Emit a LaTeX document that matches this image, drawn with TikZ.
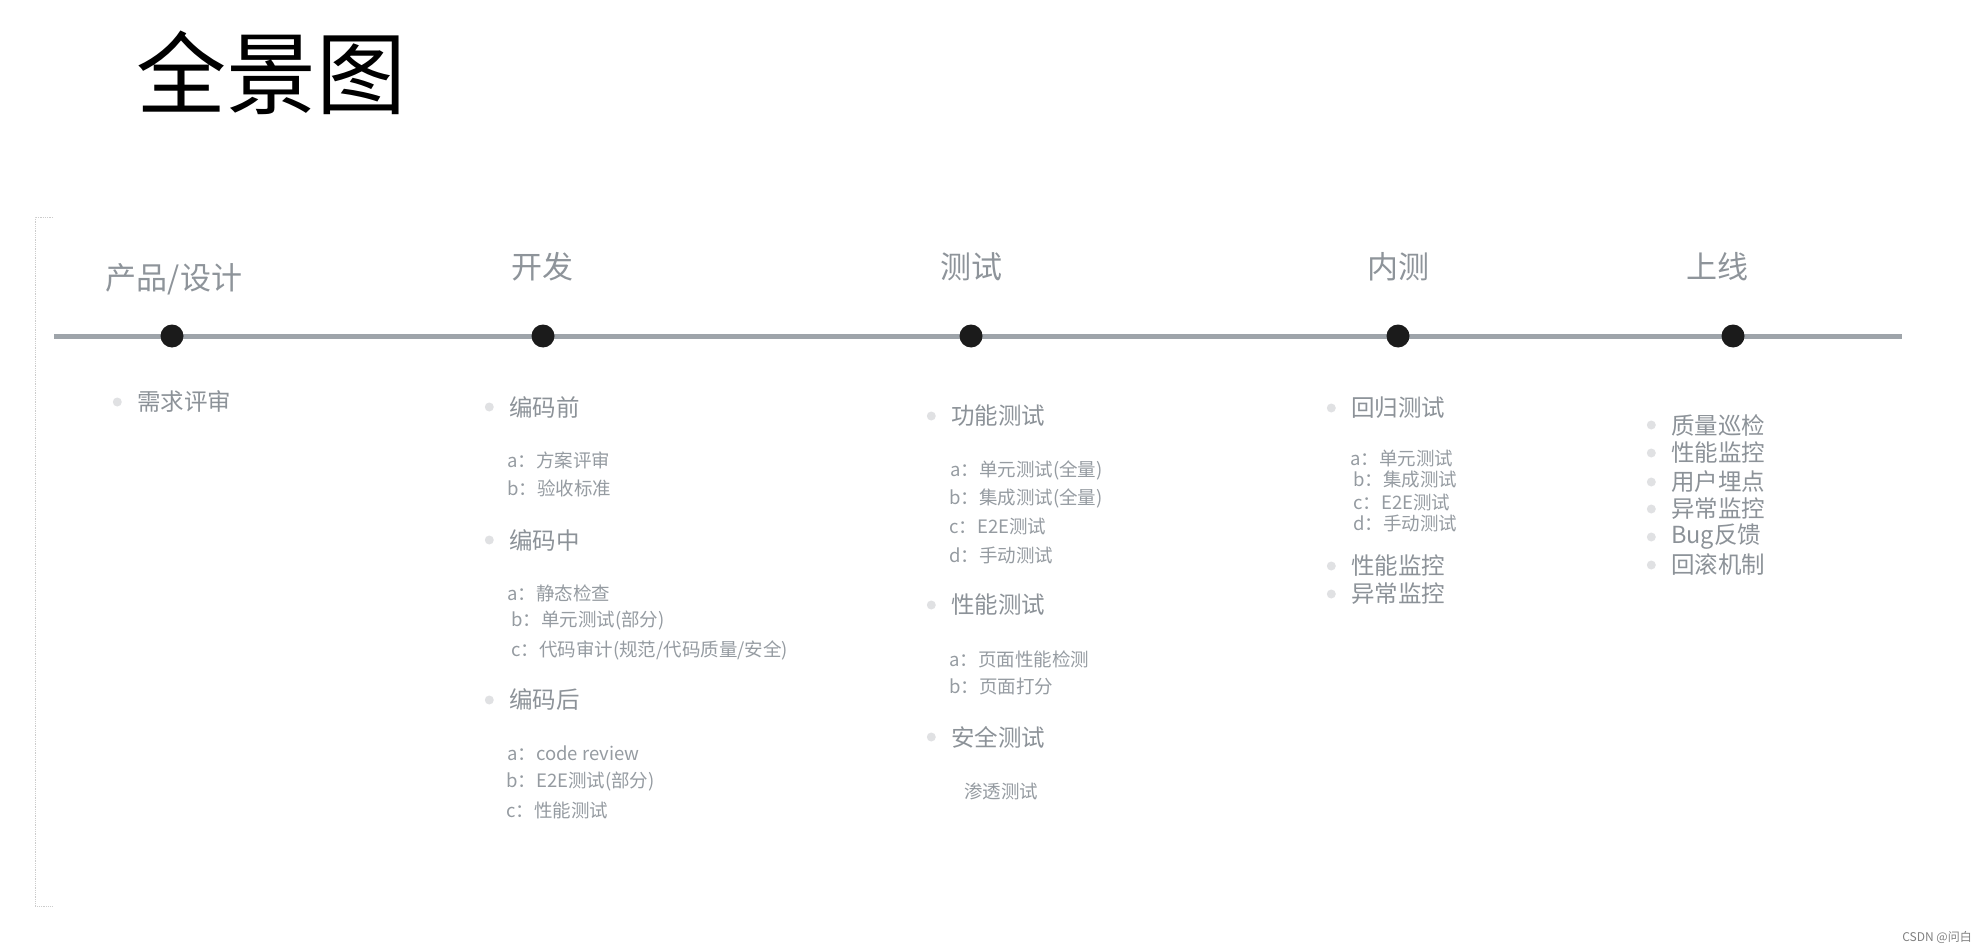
\documentclass[tikz,border=0pt]{standalone}
\usepackage{fontspec}
\newfontfamily\cjk{Noto Sans CJK SC}
\usetikzlibrary{positioning}
\definecolor{linegray}{HTML}{9EA4AA}
\definecolor{stagegray}{HTML}{8E949A}
\definecolor{itemgray}{HTML}{8C9298}
\definecolor{subgray}{HTML}{959BA1}
\definecolor{bulletgray}{HTML}{E0E1E3}
\definecolor{dotblack}{HTML}{1B1B1B}
\tikzstyle{stage}=[
    text=stagegray,inner sep=0,anchor=center,
    font=\cjk\fontsize{31}{31}\selectfont
    ]
\tikzstyle{item}=[
    text=itemgray,inner sep=0,anchor=west,
    font=\cjk\fontsize{23.5}{23.5}\selectfont
    ]
\tikzstyle{subitem}=[
    text=subgray,inner sep=0,anchor=west,
    font=\cjk\fontsize{18.5}{18.5}\selectfont
    ]
\tikzstyle{bullet}=[circle,fill=bulletgray,inner sep=0,minimum size=9]
\tikzstyle{milestone}=[circle,fill=dotblack,inner sep=0,minimum size=23]
\newcommand{\bulletItem}[4]{
\node[item] (#1) at (#2,#3) {#4};
\node[bullet,left=15 of #1] (#1-b) {};
}
\begin{document}
\begin{tikzpicture}[x=1pt,y=-1pt]
\useasboundingbox (0,0) rectangle (1982,952);
%title
\node[anchor=west,inner sep=0,font=\cjk\fontsize{90}{90}\selectfont] (title) at (136,73) {全景图};
%frame on the left
\draw[densely dotted,gray!40,line width=0.8] (53,217) -- (35,217) -- (35,906) -- (53,906);
%time line
\coordinate (lineStart) at (54,336);
\coordinate (lineEnd) at (1902,336);
\draw[linegray,line width=5] (lineStart) -- (lineEnd);
\node[milestone] (m1) at (172,336) {};
\node[milestone] (m2) at (543,336) {};
\node[milestone] (m3) at (971,336) {};
\node[milestone] (m4) at (1398,336) {};
\node[milestone] (m5) at (1733,336) {};
%stages
\node[stage] (s1) at (174,279) {产品/设计};
\node[stage] (s2) at (542,267) {开发};
\node[stage] (s3) at (971,267) {测试};
\node[stage] (s4) at (1398,267) {内测};
\node[stage] (s5) at (1717,267) {上线};
%product
\bulletItem{p1}{137}{402}{需求评审}
%develop
\bulletItem{d1}{509}{407}{编码前}
\node[subitem] (d1a) at (507,460) {a：方案评审};
\node[subitem] (d1b) at (507,488) {b：验收标准};
\bulletItem{d2}{509}{540}{编码中}
\node[subitem] (d2a) at (507,593) {a：静态检查};
\node[subitem] (d2b) at (511,621) {b：单元测试(部分)};
\node[subitem] (d2c) at (511,650) {c：代码审计(规范/代码质量/安全)};
\bulletItem{d3}{509}{700}{编码后}
\node[subitem] (d3a) at (507,753) {a：code review};
\node[subitem] (d3b) at (506,782) {b：E2E测试(部分)};
\node[subitem] (d3c) at (506,810) {c：性能测试};
%test
\bulletItem{t1}{951}{416}{功能测试}
\node[subitem] (t1a) at (950,470) {a：单元测试(全量)};
\node[subitem] (t1b) at (949,498) {b：集成测试(全量)};
\node[subitem] (t1c) at (949,526) {c：E2E测试};
\node[subitem] (t1d) at (949,555) {d：手动测试};
\bulletItem{t2}{951}{605}{性能测试}
\node[subitem] (t2a) at (949,659) {a：页面性能检测};
\node[subitem] (t2b) at (949,686) {b：页面打分};
\bulletItem{t3}{951}{737}{安全测试}
\node[subitem] (t3a) at (964,791) {渗透测试};
%internal test
\bulletItem{i1}{1351}{408}{回归测试}
\node[subitem] (i1a) at (1350,458) {a：单元测试};
\node[subitem] (i1b) at (1353,480) {b：集成测试};
\node[subitem] (i1c) at (1353,502) {c：E2E测试};
\node[subitem] (i1d) at (1353,523) {d：手动测试};
\bulletItem{i2}{1351}{566}{性能监控}
\bulletItem{i3}{1351}{594}{异常监控}
%online
\bulletItem{o1}{1671}{425}{质量巡检}
\bulletItem{o2}{1671}{453}{性能监控}
\bulletItem{o3}{1671}{482}{用户埋点}
\bulletItem{o4}{1671}{509}{异常监控}
\bulletItem{o5}{1671}{537}{Bug反馈}
\bulletItem{o6}{1671}{565}{回滚机制}
%watermark
\node[anchor=east,inner sep=0,text=gray,font=\cjk\fontsize{12}{12}\selectfont] (mark) at (1972,937) {CSDN @问白};
\end{tikzpicture}
\end{document}
